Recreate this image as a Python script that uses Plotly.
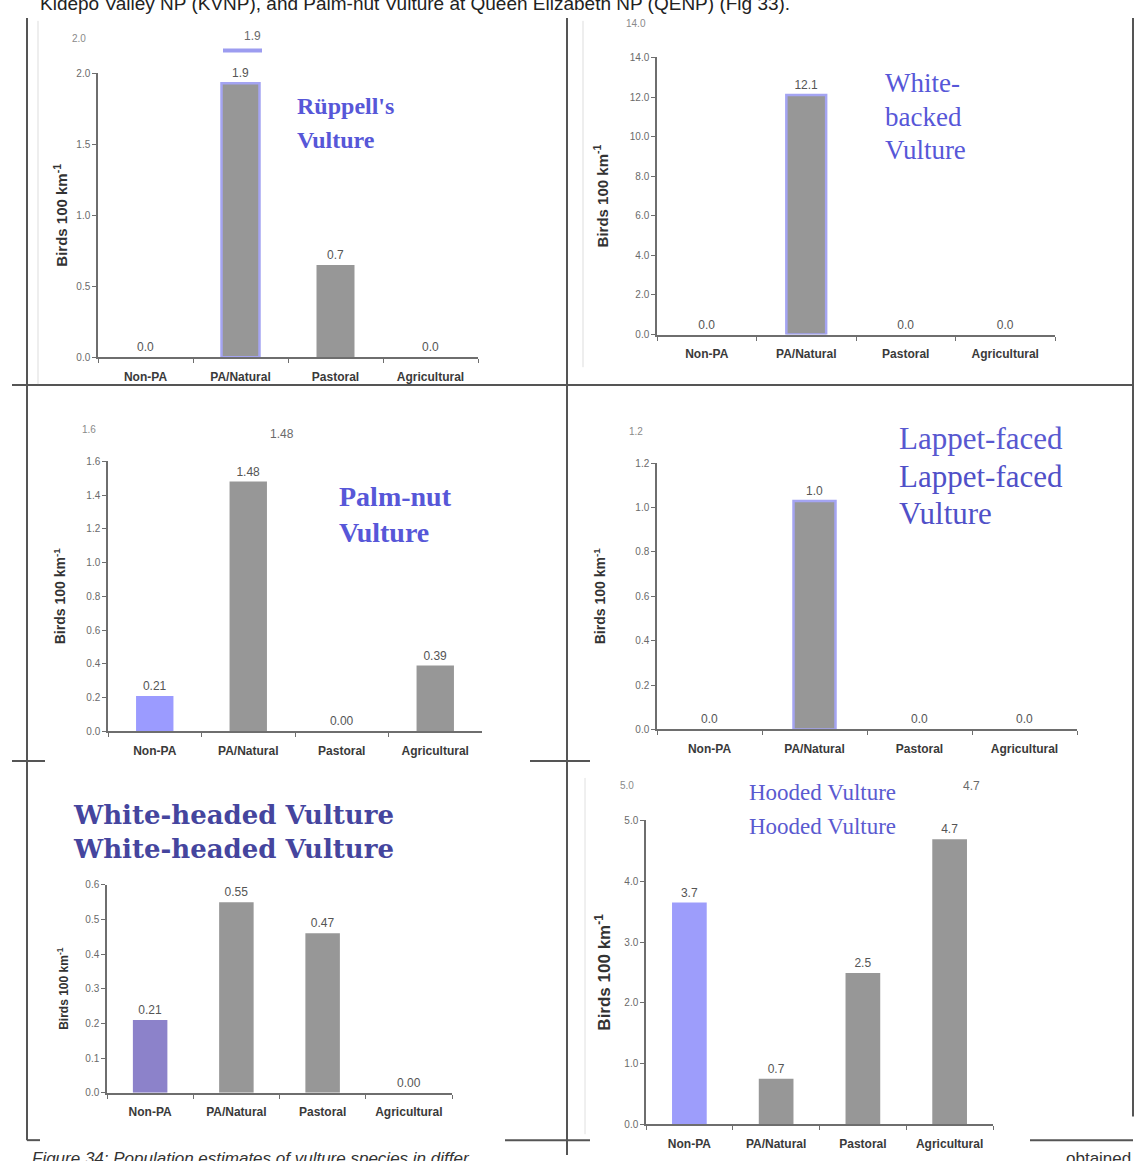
import plotly.graph_objects as go

W, H = 1140, 1161

categories = ["Non-PA", "PA/Natural", "Pastoral", "Agricultural"]

ruppell_vals = [0.0, 1.93, 0.65, 0.0]
ruppell_labels = ["0.0", "1.9", "0.7", "0.0"]
whitebacked_vals = [0.0, 12.1, 0.0, 0.0]
whitebacked_labels = ["0.0", "12.1", "0.0", "0.0"]
palmnut_vals = [0.21, 1.48, 0.0, 0.39]
palmnut_labels = ["0.21", "1.48", "0.00", "0.39"]
lappet_vals = [0.0, 1.03, 0.0, 0.0]
lappet_labels = ["0.0", "1.0", "0.0", "0.0"]
whiteheaded_vals = [0.21, 0.55, 0.46, 0.0]
whiteheaded_labels = ["0.21", "0.55", "0.47", "0.00"]
hooded_vals = [3.65, 0.75, 2.49, 4.69]
hooded_labels = ["3.7", "0.7", "2.5", "4.7"]

GREY = "#979797"
NONE = "rgba(0,0,0,0)"
OUT = "#a4a4f2"


def PX(x):
    return x / W


def PY(y):
    return 1 - y / H


panels = [
    dict(v=ruppell_vals, t=ruppell_labels, xd=(98, 478), yd=(68, 355), rng=2.0, dt=0.5,
         col=[GREY] * 4, ol=[NONE, OUT, NONE, NONE], ts=15, so=5),
    dict(v=whitebacked_vals, t=whitebacked_labels, xd=(657, 1055), yd=(52, 332), rng=14.0, dt=2.0,
         col=[GREY] * 4, ol=[NONE, OUT, NONE, NONE], ts=15, so=18),
    dict(v=palmnut_vals, t=palmnut_labels, xd=(108, 482), yd=(460, 733), rng=1.6, dt=0.2,
         col=["#9b9bff", GREY, GREY, GREY], ol=[NONE] * 4, ts=14, so=17),
    dict(v=lappet_vals, t=lappet_labels, xd=(657, 1077), yd=(462, 731), rng=1.2, dt=0.2,
         col=[GREY] * 4, ol=[NONE, OUT, NONE, NONE], ts=14, so=26),
    dict(v=whiteheaded_vals, t=whiteheaded_labels, xd=(107, 452), yd=(888, 1098), rng=0.6, dt=0.1,
         col=["#8c82ca", GREY, GREY, GREY], ol=[NONE] * 4, ts=12, so=14),
    dict(v=hooded_vals, t=hooded_labels, xd=(646, 993), yd=(823, 1130), rng=5.0, dt=1.0,
         col=["#9d9dfb", GREY, GREY, GREY], ol=[NONE] * 4, ts=17, so=9),
]

fig = go.Figure()
layout = dict(
    width=W, height=H, margin=dict(l=0, r=0, t=0, b=0),
    paper_bgcolor="white", plot_bgcolor="white", showlegend=False,
    font=dict(family="Liberation Sans, Arial, sans-serif"),
)

for i, p in enumerate(panels, start=1):
    sx = "" if i == 1 else str(i)
    fig.add_trace(go.Bar(
        x=categories, y=p["v"], text=p["t"], textposition="outside",
        textfont=dict(size=12, color="#555555"), cliponaxis=False,
        marker=dict(color=p["col"], line=dict(color=p["ol"], width=2.5)),
        xaxis="x" + sx, yaxis="y" + sx, width=0.4,
    ))
    layout["xaxis" + sx] = dict(
        domain=[PX(p["xd"][0]), PX(p["xd"][1])], anchor="y" + sx,
        showline=True, linecolor="#6e6e6e", linewidth=2,
        ticks="outside", tickson="boundaries", ticklen=4, tickcolor="#6e6e6e",
        ticklabelstandoff=7,
        tickfont=dict(size=12, color="#3a3a3a", family="Liberation Sans", weight="bold"),
        showgrid=False, fixedrange=True,
    )
    layout["yaxis" + sx] = dict(
        domain=[PY(p["yd"][1]), PY(p["yd"][0])], anchor="x" + sx,
        range=[0, p["rng"]], dtick=p["dt"], tickformat=".1f",
        showline=True, linecolor="#6e6e6e", linewidth=1.5,
        ticks="outside", ticklen=4, tickcolor="#6e6e6e",
        tickfont=dict(size=10, color="#6a6a6a"), showgrid=False, zeroline=False,
        title=dict(text="<b>Birds 100 km<sup>-1</sup></b>", standoff=p["so"],
                   font=dict(size=p["ts"], color="#333333")),
        fixedrange=True,
    )

fig.update_layout(**layout)

TITLE_BLUE = "#5757d8"
SERIF = "Liberation Serif, Times New Roman, serif"

ann = []


def txt(x, y, s, size, color, family=SERIF, xanchor="left", yanchor="middle"):
    ann.append(dict(x=PX(x), y=PY(y), xref="paper", yref="paper", text=s, showarrow=False,
                    xanchor=xanchor, yanchor=yanchor, font=dict(size=size, color=color, family=family)))


# species titles
txt(295, 101, "<b>Rüppell's</b>", 24, TITLE_BLUE)
txt(295, 135, "<b>Vulture</b>", 24, TITLE_BLUE)
txt(883, 78, "White-", 27, TITLE_BLUE)
txt(883, 112, "backed", 27, TITLE_BLUE)
txt(883, 146, "Vulture", 27, TITLE_BLUE)
txt(337, 496, "<b>Palm-nut</b>", 28, TITLE_BLUE)
txt(337, 532, "<b>Vulture</b>", 28, TITLE_BLUE)
txt(897, 437, "Lappet-faced", 31, "#5858d0")
txt(897, 475, "Lappet-faced", 31, "#5050c8")
txt(897, 513, "Vulture", 31, "#5050c8")
txt(233, 817, "<b>White-headed Vulture</b>", 26, "#45459e", family="DejaVu Serif", xanchor="center")
txt(233, 852, "<b>White-headed Vulture</b>", 26, "#45459e", family="DejaVu Serif", xanchor="center")
txt(822, 795, "Hooded Vulture", 23, "#5a5ad0", xanchor="center")
txt(822, 829, "Hooded Vulture", 23, "#5a5ad0", xanchor="center")

# ghost duplicates of the scan
GH = "#6a6a6a"
GT = "#8a8a8a"
SANS = "Liberation Sans"
txt(242, 30, "1.9", 12, GH, family=SANS)
txt(88, 33, "2.0", 10, GT, family=SANS, xanchor="right")
txt(648, 18, "14.0", 10, GT, family=SANS, xanchor="right")
txt(268, 432, "1.48", 12, GH, family=SANS)
txt(98, 428, "1.6", 10, GT, family=SANS, xanchor="right")
txt(645, 430, "1.2", 10, GT, family=SANS, xanchor="right")
txt(636, 788, "5.0", 10, GT, family=SANS, xanchor="right")
txt(961, 788, "4.7", 12, GH, family=SANS)

# page text cut by the crop
txt(38, -3, "Kidepo Valley NP (KVNP), and Palm-nut Vulture at Queen Elizabeth NP (QENP) (Fig 33).",
    19, "#222222", family=SANS)
txt(30, 1165, "<i>Figure 34: Population estimates of vulture species in differ</i>", 17, "#333333",
    family=SANS)
txt(1133, 1165, "obtained", 17, "#333333", family=SANS, xanchor="right")

fig.update_layout(annotations=ann)

shapes = []


def line(x0, y0, x1, y1, color="#555555", width=2):
    shapes.append(dict(type="line", xref="paper", yref="paper", x0=PX(x0), y0=PY(y0),
                       x1=PX(x1), y1=PY(y1), line=dict(color=color, width=width)))


line(27, 12, 27, 1146)
line(567, 12, 567, 1161)
line(1133, 12, 1133, 1122)
line(12, 383, 1133, 383)
line(12, 763, 45, 763)
line(530, 763, 590, 763)
line(27, 1146, 40, 1146)
line(505, 1146, 590, 1146)
line(1030, 1146, 1133, 1146)
line(38, 15, 38, 382, color="#dddddd", width=1)
line(583, 15, 583, 365, color="#dddddd", width=1)
line(585, 780, 585, 1140, color="#e0e0e0", width=1)
line(223, 45, 262, 45, color="#9c9cf0", width=4)

fig.update_layout(shapes=shapes)

fig.write_html(
    "out.html",
    config={"displayModeBar": False},
    post_script="document.body.style.margin='0';document.body.style.overflow='hidden';",
)
